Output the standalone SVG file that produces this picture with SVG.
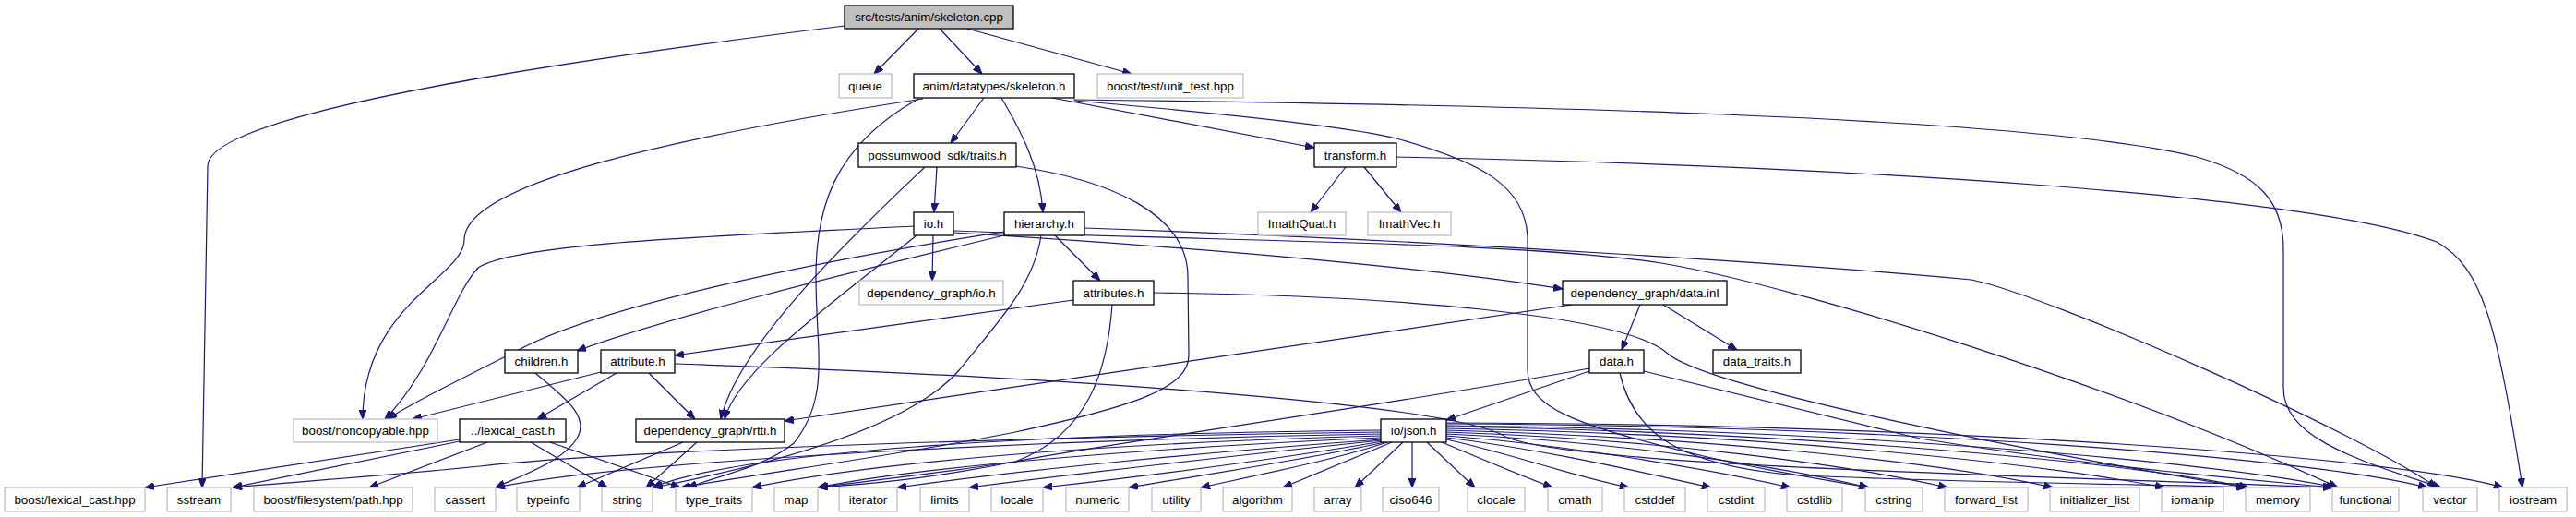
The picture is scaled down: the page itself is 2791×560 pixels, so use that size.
<svg xmlns="http://www.w3.org/2000/svg" width="2791" height="560" viewBox="0 0 2791 560">
<style>
rect{fill:#fff;stroke-width:1.3}
.n rect{stroke:#000}
.g rect{stroke:#bfbfbf}
.r rect{fill:#bfbfbf;stroke:#000}
text{font-family:"Liberation Sans",Arial,sans-serif;font-size:13.33px;text-anchor:middle;fill:#000}
#edges path{fill:none;stroke:#191970;stroke-width:1.2;marker-end:url(#a)}
</style>
<defs>
<marker id="a" viewBox="0 0 10 8" markerWidth="10" markerHeight="8" refX="10" refY="4" orient="auto" markerUnits="userSpaceOnUse">
<path d="M0,0 L10,4 L0,8 z" fill="#191970" stroke="#191970" stroke-width="1"/>
</marker>
</defs>
<rect x="0" y="0" width="2791" height="560" style="fill:#fff;stroke:none"/>
<g id="edges">
<path d="M915,28 C640,62 225,120 225,180 L219,528"/>
<path d="M995,31 L947,80"/>
<path d="M1018,31 L1064,80"/>
<path d="M1048,31 L1226,80"/>
<path d="M1066,106 L1030,155"/>
<path d="M1085,106 C1105,140 1127,180 1130,230"/>
<path d="M1140,106 L1424,160"/>
<path d="M1000,107 C720,150 503,200 503,260 C503,300 393,330 393,454"/>
<path d="M995,107 C900,160 884,230 884,300 C884,380 900,430 860,480 C830,505 780,515 745,528"/>
<path d="M1163,108 C1600,113 2200,125 2380,170 C2450,190 2474,220 2474,270 L2474,420 C2474,470 2540,495 2645,528"/>
<path d="M1164,109 C1350,125 1480,140 1520,152 C1600,175 1655,200 1655,260 L1655,400 C1655,440 1700,460 1850,495 C1930,513 1980,520 2025,528"/>
<path d="M1015,181 L1012,230"/>
<path d="M1002,181 C940,240 800,370 781,454"/>
<path d="M1101,180 C1200,195 1287,230 1287,300 L1288,385 C1288,420 1230,440 1100,468 C980,492 830,512 738,528"/>
<path d="M1011,255 L1010,304"/>
<path d="M990,245 C800,255 560,262 518,290 C490,320 470,400 417,454"/>
<path d="M993,255 C900,330 800,400 785,454"/>
<path d="M1033,252 C1300,268 1550,290 1693,313"/>
<path d="M1033,250 C1350,262 1650,262 1800,285 C1950,310 2300,420 2533,528"/>
<path d="M1143,255 L1192,304"/>
<path d="M1088,255 C900,300 720,345 625,380"/>
<path d="M1088,251 C900,280 650,330 560,380 C500,410 440,440 420,454"/>
<path d="M1128,255 C1120,310 1080,350 1040,400 C980,470 800,510 708,528"/>
<path d="M1175,247 C1600,262 2000,290 2136,303 C2220,320 2560,470 2640,528"/>
<path d="M1163,325 L731,385"/>
<path d="M1205,330 C1200,400 1180,470 1100,500 C1000,520 930,525 887,528"/>
<path d="M1250,317 C1500,320 1760,340 1807,383 C1850,420 2200,490 2433,528"/>
<path d="M651,403 L447,454"/>
<path d="M668,404 L582,454"/>
<path d="M703,404 L753,454"/>
<path d="M731,394 C1200,410 1580,440 1631,473 C1700,505 2200,515 2527,528"/>
<path d="M580,404 C610,430 640,450 625,475 C610,500 565,515 537,528"/>
<path d="M498,476 L157,528"/>
<path d="M498,478 L252,528"/>
<path d="M528,479 L400,528"/>
<path d="M575,479 L658,528"/>
<path d="M596,479 L737,528"/>
<path d="M740,479 L625,528"/>
<path d="M755,479 L700,528"/>
<path d="M1777,330 L1757,379"/>
<path d="M1802,330 L1882,379"/>
<path d="M1703,330 L850,456"/>
<path d="M1722,402 L1567,455"/>
<path d="M1722,399 C1500,440 1200,480 1100,500 C1000,515 930,522 887,528"/>
<path d="M1755,404 C1770,470 1820,505 1950,515 C2200,525 2380,525 2433,528"/>
<path d="M1781,402 L2080,475 C2300,510 2450,520 2527,528"/>
<path d="M1458,181 L1420,230"/>
<path d="M1478,181 L1518,230"/>
<path d="M1513,170 C2000,180 2500,210 2640,262 C2690,290 2705,350 2733,528"/>
<path d="M1496,468 C1200,472 700,485 520,505 C400,517 300,523 252,528"/>
<path d="M1496,470 C1200,475 700,495 537,528"/>
<path d="M1496,466 C1100,470 800,490 707,528"/>
<path d="M1496,472 C1200,480 950,500 815,528"/>
<path d="M1496,474 C1250,485 1000,505 886,528"/>
<path d="M1497,476 C1300,490 1100,510 972,528"/>
<path d="M1497,477 C1350,492 1150,515 1050,528"/>
<path d="M1498,478 C1400,495 1250,515 1130,528"/>
<path d="M1500,479 C1420,497 1300,515 1223,528"/>
<path d="M1503,479 C1450,497 1370,513 1301,528"/>
<path d="M1508,479 L1390,528"/>
<path d="M1520,479 L1468,528"/>
<path d="M1530,479 L1530,528"/>
<path d="M1546,479 L1598,528"/>
<path d="M1562,479 C1600,495 1640,512 1682,528"/>
<path d="M1567,476 C1640,492 1700,515 1765,528"/>
<path d="M1567,474 C1680,488 1780,512 1854,528"/>
<path d="M1567,472 C1700,482 1850,508 1940,528"/>
<path d="M1567,470 C1750,478 1930,505 2024,528"/>
<path d="M1567,468 C1800,476 2000,503 2110,528"/>
<path d="M1567,466 C1850,474 2100,500 2224,528"/>
<path d="M1567,464 C1900,470 2200,500 2345,528"/>
<path d="M1567,462 C1950,468 2300,500 2436,528"/>
<path d="M1567,461 C2000,465 2400,500 2530,528"/>
<path d="M1567,459 C2050,461 2500,495 2630,528"/>
<path d="M1567,458 C2100,459 2600,495 2712,528"/>
</g>
<g id="root" class="r"><rect x="915" y="6" width="183" height="25"/><text x="1006.5" y="23">src/tests/anim/skeleton.cpp</text></g>
<g id="queue" class="g"><rect x="909" y="80" width="57" height="26"/><text x="937.5" y="97.5">queue</text></g>
<g id="skeleton_h" class="n"><rect x="990" y="80" width="174" height="26"/><text x="1077" y="97.5">anim/datatypes/skeleton.h</text></g>
<g id="unit_test" class="g"><rect x="1189" y="80" width="158" height="26"/><text x="1268" y="97.5">boost/test/unit_test.hpp</text></g>
<g id="traits_h" class="n"><rect x="930" y="155" width="171" height="26"/><text x="1015.5" y="172.5">possumwood_sdk/traits.h</text></g>
<g id="transform_h" class="n"><rect x="1424" y="155" width="89" height="26"/><text x="1468.5" y="172.5">transform.h</text></g>
<g id="io_h" class="n"><rect x="990" y="230" width="43" height="25"/><text x="1011.5" y="247">io.h</text></g>
<g id="hierarchy_h" class="n"><rect x="1088" y="230" width="87" height="25"/><text x="1131.5" y="247">hierarchy.h</text></g>
<g id="imathquat" class="g"><rect x="1363" y="230" width="95" height="25"/><text x="1410.5" y="247">ImathQuat.h</text></g>
<g id="imathvec" class="g"><rect x="1482" y="230" width="90" height="25"/><text x="1527" y="247">ImathVec.h</text></g>
<g id="dg_io_h" class="g"><rect x="931" y="304" width="156" height="26"/><text x="1009" y="321.5">dependency_graph/io.h</text></g>
<g id="attributes_h" class="n"><rect x="1163" y="304" width="87" height="26"/><text x="1206.5" y="321.5">attributes.h</text></g>
<g id="data_inl" class="n"><rect x="1693" y="304" width="178" height="26"/><text x="1782" y="321.5">dependency_graph/data.inl</text></g>
<g id="children_h" class="n"><rect x="547" y="379" width="79" height="25"/><text x="586.5" y="396">children.h</text></g>
<g id="attribute_h" class="n"><rect x="651" y="379" width="80" height="25"/><text x="691" y="396">attribute.h</text></g>
<g id="data_h" class="n"><rect x="1722" y="379" width="59" height="25"/><text x="1751.5" y="396">data.h</text></g>
<g id="data_traits_h" class="n"><rect x="1856" y="379" width="95" height="25"/><text x="1903.5" y="396">data_traits.h</text></g>
<g id="noncopyable" class="g"><rect x="318" y="454" width="156" height="25"/><text x="396" y="471">boost/noncopyable.hpp</text></g>
<g id="lexical_cast_h" class="n"><rect x="498" y="454" width="115" height="25"/><text x="555.5" y="471">../lexical_cast.h</text></g>
<g id="rtti_h" class="n"><rect x="689" y="454" width="161" height="25"/><text x="769.5" y="471">dependency_graph/rtti.h</text></g>
<g id="json_h" class="n"><rect x="1496" y="454" width="71" height="25"/><text x="1531.5" y="471">io/json.h</text></g>
<g id="boost_lexical_cast" class="g"><rect x="5" y="528" width="152" height="26"/><text x="81" y="545.5">boost/lexical_cast.hpp</text></g>
<g id="sstream" class="g"><rect x="181" y="528" width="69" height="26"/><text x="215.5" y="545.5">sstream</text></g>
<g id="fs_path" class="g"><rect x="275" y="528" width="172" height="26"/><text x="361" y="545.5">boost/filesystem/path.hpp</text></g>
<g id="cassert" class="g"><rect x="471" y="528" width="66" height="26"/><text x="504" y="545.5">cassert</text></g>
<g id="typeinfo" class="g"><rect x="560" y="528" width="68" height="26"/><text x="594" y="545.5">typeinfo</text></g>
<g id="string" class="g"><rect x="652" y="528" width="55" height="26"/><text x="679.5" y="545.5">string</text></g>
<g id="type_traits" class="g"><rect x="732" y="528" width="83" height="26"/><text x="773.5" y="545.5">type_traits</text></g>
<g id="map" class="g"><rect x="839" y="528" width="47" height="26"/><text x="862.5" y="545.5">map</text></g>
<g id="iterator" class="g"><rect x="909" y="528" width="63" height="26"/><text x="940.5" y="545.5">iterator</text></g>
<g id="limits" class="g"><rect x="997" y="528" width="53" height="26"/><text x="1023.5" y="545.5">limits</text></g>
<g id="locale" class="g"><rect x="1074" y="528" width="56" height="26"/><text x="1102" y="545.5">locale</text></g>
<g id="numeric" class="g"><rect x="1155" y="528" width="68" height="26"/><text x="1189" y="545.5">numeric</text></g>
<g id="utility" class="g"><rect x="1248" y="528" width="53" height="26"/><text x="1274.5" y="545.5">utility</text></g>
<g id="algorithm" class="g"><rect x="1325" y="528" width="75" height="26"/><text x="1362.5" y="545.5">algorithm</text></g>
<g id="array" class="g"><rect x="1424" y="528" width="51" height="26"/><text x="1449.5" y="545.5">array</text></g>
<g id="ciso646" class="g"><rect x="1498" y="528" width="61" height="26"/><text x="1528.5" y="545.5">ciso646</text></g>
<g id="clocale" class="g"><rect x="1590" y="528" width="62" height="26"/><text x="1621" y="545.5">clocale</text></g>
<g id="cmath" class="g"><rect x="1677" y="528" width="59" height="26"/><text x="1706.5" y="545.5">cmath</text></g>
<g id="cstddef" class="g"><rect x="1760" y="528" width="66" height="26"/><text x="1793" y="545.5">cstddef</text></g>
<g id="cstdint" class="g"><rect x="1850" y="528" width="62" height="26"/><text x="1881" y="545.5">cstdint</text></g>
<g id="cstdlib" class="g"><rect x="1936" y="528" width="60" height="26"/><text x="1966" y="545.5">cstdlib</text></g>
<g id="cstring" class="g"><rect x="2021" y="528" width="62" height="26"/><text x="2052" y="545.5">cstring</text></g>
<g id="forward_list" class="g"><rect x="2107" y="528" width="90" height="26"/><text x="2152" y="545.5">forward_list</text></g>
<g id="initializer_list" class="g"><rect x="2221" y="528" width="97" height="26"/><text x="2269.5" y="545.5">initializer_list</text></g>
<g id="iomanip" class="g"><rect x="2342" y="528" width="67" height="26"/><text x="2375.5" y="545.5">iomanip</text></g>
<g id="memory" class="g"><rect x="2433" y="528" width="70" height="26"/><text x="2468" y="545.5">memory</text></g>
<g id="functional" class="g"><rect x="2527" y="528" width="72" height="26"/><text x="2563" y="545.5">functional</text></g>
<g id="vector" class="g"><rect x="2625" y="528" width="59" height="26"/><text x="2654.5" y="545.5">vector</text></g>
<g id="iostream" class="g"><rect x="2708" y="528" width="73" height="26"/><text x="2744.5" y="545.5">iostream</text></g>
</svg>
